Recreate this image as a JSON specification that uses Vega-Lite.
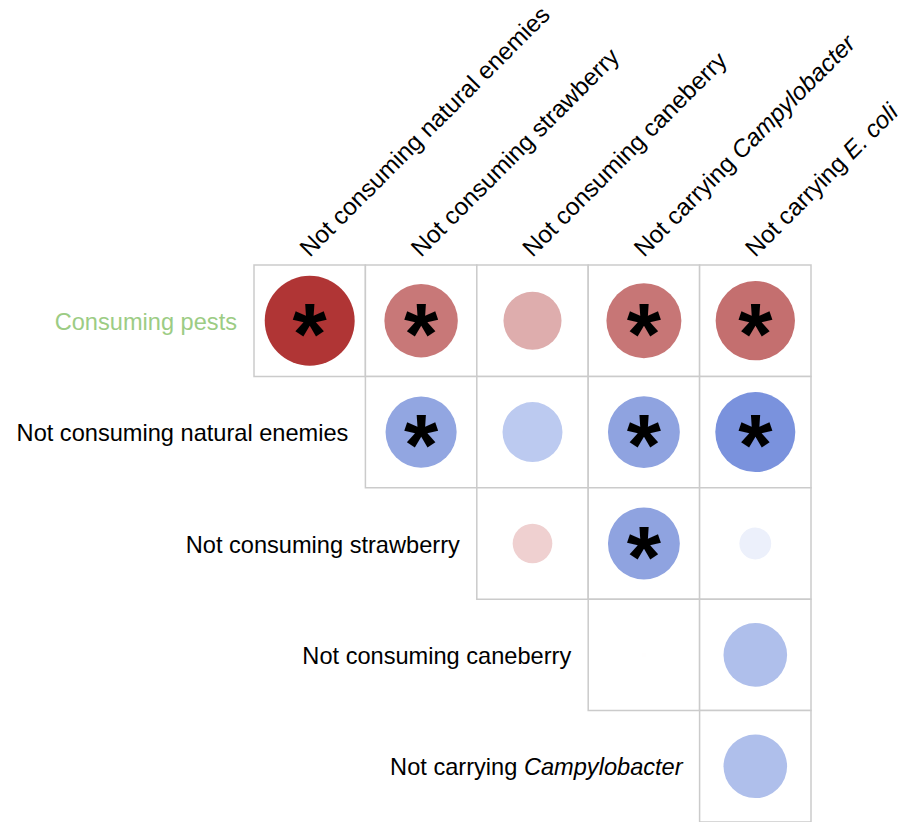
{
  "$schema": "https://vega.github.io/schema/vega-lite/v6.json",
  "width": 557,
  "height": 557,
  "autosize": {"type": "none"},
  "padding": {"left": 254, "top": 265, "right": 87, "bottom": 0},
  "background": "white",
  "config": {"view": {"stroke": null}, "text": {"font": "Liberation Sans"}},
  "datasets": {
    "cells": [
      {"row": "Consuming pests", "col": "Not consuming natural enemies", "r": 0.72, "sig": true},
      {"row": "Consuming pests", "col": "Not consuming strawberry", "r": 0.48, "sig": true},
      {"row": "Consuming pests", "col": "Not consuming caneberry", "r": 0.30, "sig": false},
      {"row": "Consuming pests", "col": "Not carrying Campylobacter", "r": 0.50, "sig": true},
      {"row": "Consuming pests", "col": "Not carrying E. coli", "r": 0.56, "sig": true},
      {"row": "Not consuming natural enemies", "col": "Not consuming strawberry", "r": -0.45, "sig": true},
      {"row": "Not consuming natural enemies", "col": "Not consuming caneberry", "r": -0.32, "sig": false},
      {"row": "Not consuming natural enemies", "col": "Not carrying Campylobacter", "r": -0.46, "sig": true},
      {"row": "Not consuming natural enemies", "col": "Not carrying E. coli", "r": -0.57, "sig": true},
      {"row": "Not consuming strawberry", "col": "Not consuming caneberry", "r": 0.14, "sig": false},
      {"row": "Not consuming strawberry", "col": "Not carrying Campylobacter", "r": -0.46, "sig": true},
      {"row": "Not consuming strawberry", "col": "Not carrying E. coli", "r": -0.09, "sig": false},
      {"row": "Not consuming caneberry", "col": "Not carrying Campylobacter", "r": 0.002, "sig": false},
      {"row": "Not consuming caneberry", "col": "Not carrying E. coli", "r": -0.36, "sig": false},
      {"row": "Not carrying Campylobacter", "col": "Not carrying E. coli", "r": -0.36, "sig": false}
    ],
    "rowLabels": [
      {"row": "Consuming pests", "col": "Not consuming natural enemies", "prefix": "Consuming pests"},
      {"row": "Not consuming natural enemies", "col": "Not consuming strawberry", "prefix": "Not consuming natural enemies"},
      {"row": "Not consuming strawberry", "col": "Not consuming caneberry", "prefix": "Not consuming strawberry"},
      {"row": "Not consuming caneberry", "col": "Not carrying Campylobacter", "prefix": "Not consuming caneberry"},
      {"row": "Not carrying Campylobacter", "col": "Not carrying E. coli", "prefix": "Not carrying", "taxon": "Campylobacter"}
    ],
    "colLabels": [
      {"row": "Consuming pests", "col": "Not consuming natural enemies", "prefix": "Not consuming natural enemies"},
      {"row": "Consuming pests", "col": "Not consuming strawberry", "prefix": "Not consuming strawberry"},
      {"row": "Consuming pests", "col": "Not consuming caneberry", "prefix": "Not consuming caneberry"},
      {"row": "Consuming pests", "col": "Not carrying Campylobacter", "prefix": "Not carrying", "taxon": "Campylobacter"},
      {"row": "Consuming pests", "col": "Not carrying E. coli", "prefix": "Not carrying", "taxon": "E. coli"}
    ]
  },
  "encoding": {
    "x": {
      "field": "col", "type": "nominal", "axis": null,
      "scale": {
        "type": "band", "paddingInner": 0, "paddingOuter": 0,
        "domain": ["Not consuming natural enemies", "Not consuming strawberry", "Not consuming caneberry", "Not carrying Campylobacter", "Not carrying E. coli"]
      }
    },
    "y": {
      "field": "row", "type": "nominal", "axis": null,
      "scale": {
        "type": "band", "paddingInner": 0, "paddingOuter": 0,
        "domain": ["Consuming pests", "Not consuming natural enemies", "Not consuming strawberry", "Not consuming caneberry", "Not carrying Campylobacter"]
      }
    }
  },
  "layer": [
    {
      "data": {"name": "cells"},
      "mark": {"type": "rect", "fill": "white", "stroke": "#cbcbcb", "strokeWidth": 1.5}
    },
    {
      "data": {"name": "cells"},
      "mark": {"type": "point", "shape": "circle", "filled": true, "opacity": 1, "strokeWidth": 0},
      "encoding": {
        "size": {
          "field": "r", "type": "quantitative", "legend": null,
          "scale": {"domain": [-1, 0, 1], "range": [11236, 0, 11236]}
        },
        "color": {
          "field": "r", "type": "quantitative", "legend": null,
          "scale": {
            "interpolate": "rgb",
            "domain": [-0.57, -0.46, -0.32, 0, 0.14, 0.30, 0.48, 0.56, 0.72],
            "range": ["#7a92dd", "#8fa3e0", "#bccaf0", "#ffffff", "#efd0d0", "#deadad", "#c87878", "#c46f6f", "#b03535"]
          }
        }
      }
    },
    {
      "data": {"name": "cells"},
      "transform": [{"filter": "datum.sig"}],
      "mark": {"type": "text", "text": "*", "fontSize": 88, "fontWeight": "bold", "baseline": "alphabetic", "dy": 43, "color": "black"}
    },
    {
      "data": {"name": "rowLabels"},
      "transform": [{"filter": "datum.taxon == null"}],
      "mark": {"type": "text", "align": "right", "baseline": "alphabetic", "dx": -17, "dy": 9, "fontSize": 23.6},
      "encoding": {
        "x": {"field": "col", "type": "nominal", "bandPosition": 0},
        "text": {"field": "prefix"},
        "color": {"condition": {"test": "datum.row === 'Consuming pests'", "value": "#9ccc84"}, "value": "black"}
      }
    },
    {
      "data": {"name": "rowLabels"},
      "transform": [{"filter": "datum.taxon != null"}],
      "mark": {"type": "text", "align": "right", "baseline": "alphabetic", "dx": -182.3, "dy": 9, "fontSize": 23.6, "color": "black"},
      "encoding": {
        "x": {"field": "col", "type": "nominal", "bandPosition": 0},
        "text": {"field": "prefix"}
      }
    },
    {
      "data": {"name": "rowLabels"},
      "transform": [{"filter": "datum.taxon != null"}],
      "mark": {"type": "text", "align": "right", "baseline": "alphabetic", "dx": -17, "dy": 9, "fontSize": 23.6, "fontStyle": "italic", "color": "black"},
      "encoding": {
        "x": {"field": "col", "type": "nominal", "bandPosition": 0},
        "text": {"field": "taxon"}
      }
    },
    {
      "data": {"name": "colLabels"},
      "mark": {"type": "text", "align": "left", "baseline": "alphabetic", "angle": -45, "dx": 5, "dy": -5, "fontSize": 24.3, "color": "black"},
      "encoding": {
        "y": {"field": "row", "type": "nominal", "bandPosition": 0},
        "text": {"field": "prefix"}
      }
    },
    {
      "data": {"name": "colLabels"},
      "transform": [{"filter": "datum.taxon != null"}],
      "mark": {"type": "text", "align": "left", "baseline": "alphabetic", "angle": -45, "dx": 142.7, "dy": -5, "fontSize": 24.3, "fontStyle": "italic", "color": "black"},
      "encoding": {
        "y": {"field": "row", "type": "nominal", "bandPosition": 0},
        "text": {"field": "taxon"}
      }
    }
  ]
}
